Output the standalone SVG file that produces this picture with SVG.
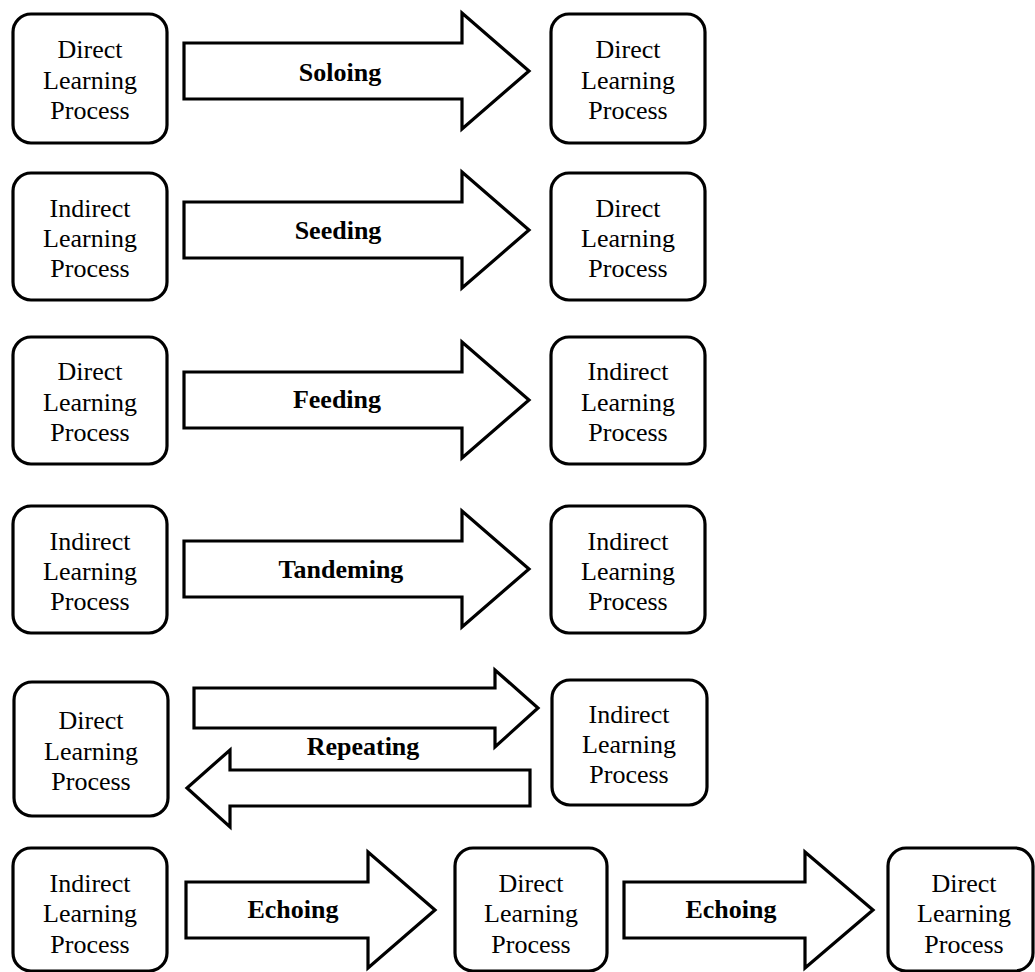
<svg xmlns="http://www.w3.org/2000/svg" width="1035" height="972" viewBox="0 0 1035 972">
  <style>
    .box { fill: #ffffff; stroke: #000000; stroke-width: 3.2; }
    .arrow { fill: #ffffff; stroke: #000000; stroke-width: 3.2; stroke-linejoin: miter; }
    .t { font-family: "Liberation Serif", "Times New Roman", serif; font-size: 26px; fill: #000000; text-anchor: middle; }
    .lbl { font-family: "Liberation Serif", "Times New Roman", serif; font-size: 26px; font-weight: bold; fill: #000000; text-anchor: middle; }
  </style>

  <rect width="1035" height="972" fill="#ffffff"/>

  <!-- Connectors: block arrows and their labels -->
  <g id="connectors">
    <g id="arrow-soloing">
      <polygon class="arrow" points="184,43 462,43 462,13 529,71 462,129 462,99 184,99"/>
      <text class="lbl" x="340" y="81">Soloing</text>
    </g>
    <g id="arrow-seeding">
      <polygon class="arrow" points="184,202 462,202 462,172 529,230 462,288 462,258 184,258"/>
      <text class="lbl" x="338" y="239">Seeding</text>
    </g>
    <g id="arrow-feeding">
      <polygon class="arrow" points="184,372 462,372 462,342 529,400 462,458 462,428 184,428"/>
      <text class="lbl" x="337" y="408">Feeding</text>
    </g>
    <g id="arrow-tandeming">
      <polygon class="arrow" points="184,541 462,541 462,511 529,569 462,627 462,597 184,597"/>
      <text class="lbl" x="341" y="578">Tandeming</text>
    </g>
    <g id="arrow-repeating">
      <polygon class="arrow" points="194,688 495,688 495,670 538,708 495,747 495,728 194,728"/>
      <polygon class="arrow" points="530,770 230,770 230,750 187,788 230,827 230,806 530,806"/>
      <text class="lbl" x="363" y="755">Repeating</text>
    </g>
    <g id="arrow-echoing-1">
      <polygon class="arrow" points="186,882 368,882 368,852 435,910 368,968 368,938 186,938"/>
      <text class="lbl" x="293" y="918">Echoing</text>
    </g>
    <g id="arrow-echoing-2">
      <polygon class="arrow" points="624,882 805,882 805,852 873,910 805,968 805,938 624,938"/>
      <text class="lbl" x="731" y="918">Echoing</text>
    </g>
  </g>

  <!-- Row 1 -->
  <g id="n1a">
    <rect class="box" x="13" y="14" width="154" height="129" rx="18" ry="18"/>
    <text class="t" x="90" y="58">Direct</text>
    <text class="t" x="90" y="89">Learning</text>
    <text class="t" x="90" y="119">Process</text>
  </g>
  <g id="n1b">
    <rect class="box" x="551" y="14" width="154" height="129" rx="18" ry="18"/>
    <text class="t" x="628" y="58">Direct</text>
    <text class="t" x="628" y="89">Learning</text>
    <text class="t" x="628" y="119">Process</text>
  </g>

  <!-- Row 2 -->
  <g id="n2a">
    <rect class="box" x="13" y="173" width="154" height="127" rx="18" ry="18"/>
    <text class="t" x="90" y="217">Indirect</text>
    <text class="t" x="90" y="247">Learning</text>
    <text class="t" x="90" y="277">Process</text>
  </g>
  <g id="n2b">
    <rect class="box" x="551" y="173" width="154" height="127" rx="18" ry="18"/>
    <text class="t" x="628" y="217">Direct</text>
    <text class="t" x="628" y="247">Learning</text>
    <text class="t" x="628" y="277">Process</text>
  </g>

  <!-- Row 3 -->
  <g id="n3a">
    <rect class="box" x="13" y="337" width="154" height="127" rx="18" ry="18"/>
    <text class="t" x="90" y="380">Direct</text>
    <text class="t" x="90" y="411">Learning</text>
    <text class="t" x="90" y="441">Process</text>
  </g>
  <g id="n3b">
    <rect class="box" x="551" y="337" width="154" height="127" rx="18" ry="18"/>
    <text class="t" x="628" y="380">Indirect</text>
    <text class="t" x="628" y="411">Learning</text>
    <text class="t" x="628" y="441">Process</text>
  </g>

  <!-- Row 4 -->
  <g id="n4a">
    <rect class="box" x="13" y="506" width="154" height="127" rx="18" ry="18"/>
    <text class="t" x="90" y="550">Indirect</text>
    <text class="t" x="90" y="580">Learning</text>
    <text class="t" x="90" y="610">Process</text>
  </g>
  <g id="n4b">
    <rect class="box" x="551" y="506" width="154" height="127" rx="18" ry="18"/>
    <text class="t" x="628" y="550">Indirect</text>
    <text class="t" x="628" y="580">Learning</text>
    <text class="t" x="628" y="610">Process</text>
  </g>

  <!-- Row 5 -->
  <g id="n5a">
    <rect class="box" x="14" y="682" width="154" height="134" rx="18" ry="18"/>
    <text class="t" x="91" y="729">Direct</text>
    <text class="t" x="91" y="760">Learning</text>
    <text class="t" x="91" y="790">Process</text>
  </g>
  <g id="n5b">
    <rect class="box" x="552" y="680" width="155" height="125" rx="18" ry="18"/>
    <text class="t" x="629" y="723">Indirect</text>
    <text class="t" x="629" y="753">Learning</text>
    <text class="t" x="629" y="783">Process</text>
  </g>

  <!-- Row 6 -->
  <g id="n6a">
    <rect class="box" x="13" y="848" width="154" height="123" rx="18" ry="18"/>
    <text class="t" x="90" y="892">Indirect</text>
    <text class="t" x="90" y="922">Learning</text>
    <text class="t" x="90" y="953">Process</text>
  </g>
  <g id="n6b">
    <rect class="box" x="455" y="848" width="152" height="123" rx="18" ry="18"/>
    <text class="t" x="531" y="892">Direct</text>
    <text class="t" x="531" y="922">Learning</text>
    <text class="t" x="531" y="953">Process</text>
  </g>
  <g id="n6c">
    <rect class="box" x="888" y="848" width="145" height="123" rx="18" ry="18"/>
    <text class="t" x="964" y="892">Direct</text>
    <text class="t" x="964" y="922">Learning</text>
    <text class="t" x="964" y="953">Process</text>
  </g>
</svg>
